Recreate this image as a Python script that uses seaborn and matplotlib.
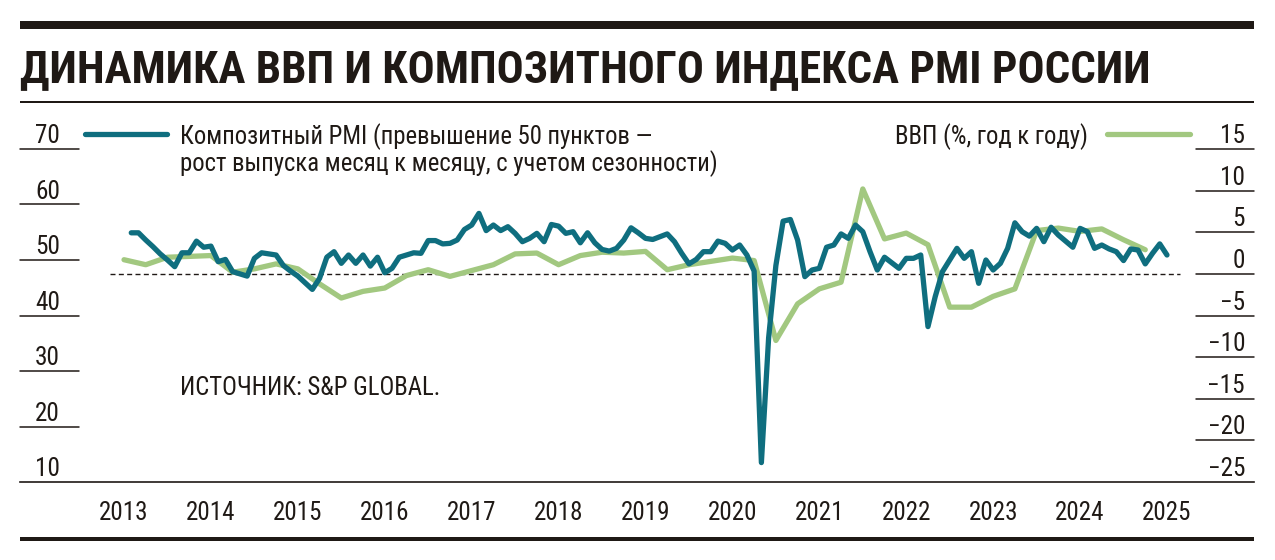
import numpy as np
import pandas as pd
import matplotlib
matplotlib.use("Agg")
import matplotlib.pyplot as plt
import seaborn as sns
from matplotlib import font_manager as fm
from matplotlib.lines import Line2D
from matplotlib.patches import Rectangle

# ---------------- data ----------------
TITLE = "ДИНАМИКА ВВП И КОМПОЗИТНОГО ИНДЕКСА PMI РОССИИ"
PMI_LABEL_1 = "Композитный PMI (превышение 50 пунктов —"
PMI_LABEL_2 = "рост выпуска месяц к месяцу, с учетом сезонности)"
GDP_LABEL = "ВВП (%, год к году)"
SOURCE = "ИСТОЧНИК: S&P GLOBAL."

# Composite PMI, monthly (Jan..Dec)
pmi_2013 = [54.9, 54.9, 53.6, 52.4, 51.1, 50.0, 48.8, 51.3, 51.3, 53.4, 52.3, 52.5]
pmi_2014 = [49.7, 50.1, 47.9, 47.5, 47.1, 50.3, 51.3, 51.1, 50.9, 49.0, 48.0, 47.1]
pmi_2015 = [45.9, 44.7, 46.7, 50.5, 51.5, 49.4, 50.9, 49.4, 50.9, 48.9, 50.5, 47.7]
pmi_2016 = [48.5, 50.5, 50.9, 51.3, 51.2, 53.5, 53.5, 52.9, 53.0, 53.6, 55.5, 56.3]
pmi_2017 = [58.4, 55.3, 56.3, 55.3, 56.0, 54.8, 53.3, 53.9, 54.8, 53.3, 56.4, 56.1]
pmi_2018 = [54.8, 55.1, 53.1, 54.9, 53.1, 51.9, 51.6, 52.1, 53.6, 55.8, 54.9, 53.9]
pmi_2019 = [53.7, 54.2, 54.7, 53.3, 51.2, 49.3, 50.1, 51.5, 51.5, 53.4, 53.0, 51.8]
pmi_2020 = [52.7, 50.9, 48.0, 13.5, 36.0, 49.0, 57.0, 57.3, 53.6, 47.0, 48.2, 48.5]
pmi_2021 = [52.3, 52.7, 54.7, 53.9, 56.3, 55.1, 51.5, 48.2, 50.5, 49.5, 48.5, 50.3]
pmi_2022 = [50.3, 50.9, 38.0, 43.4, 47.9, 50.0, 52.1, 50.3, 51.5, 45.8, 50.0, 48.2]
pmi_2023 = [49.4, 52.1, 56.7, 55.1, 54.3, 55.7, 53.3, 55.9, 54.5, 53.4, 52.3, 55.7]
pmi_2024 = [55.1, 52.1, 52.7, 52.0, 51.5, 49.9, 52.0, 51.8, 49.3, 51.2, 52.9, 50.9]

# GDP, % y/y, quarterly from 2012Q4 to 2024Q3
gdp_start, gdp_end = "2012Q4", "2024Q3"
gdp_yoy = [1.7, 1.1, 2.0, 2.1, 2.2, 0.2, 0.6, 1.2, 0.6, -1.2, -2.9, -2.1,
           -1.7, -0.2, 0.5, -0.3, 0.4, 1.1, 2.4, 2.5, 1.1, 2.2, 2.6, 2.5,
           2.7, 0.5, 1.1, 1.5, 1.9, 1.6, -8.0, -3.6, -1.8, -1.0, 10.2, 4.2,
           4.9, 3.5, -4.0, -4.0, -2.7, -1.8, 5.2, 5.5, 5.1, 5.4, 4.1, 2.9]

pmi_ticks = [10, 20, 30, 40, 50, 60, 70]
gdp_ticks = [15, 10, 5, 0, -5, -10, -15, -20, -25]
year_ticks = list(range(2013, 2026))

# ---------------- style ----------------
TEAL = "#0f6e7f"
GREEN = "#a2c880"
DARK = "#1f1915"

sns.set_theme(style="white")
names = {f.name for f in fm.fontManager.ttflist}


def pick(cands, default):
    for c in cands:
        if c in names:
            return c
    return default


body_font = pick(["Roboto Condensed", "Liberation Sans Narrow"], "Roboto")
title_font = pick(["Roboto Condensed"], "Roboto")
plt.rcParams["font.family"] = [body_font, "DejaVu Sans"]
plt.rcParams["text.color"] = DARK

pmi_vals = (pmi_2013 + pmi_2014 + pmi_2015 + pmi_2016 + pmi_2017 + pmi_2018 +
            pmi_2019 + pmi_2020 + pmi_2021 + pmi_2022 + pmi_2023 + pmi_2024)
months = pd.period_range("2013-01", "2024-12", freq="M")
pmi_df = pd.DataFrame({"t": months.year + months.month / 12.0, "pmi": pmi_vals})
quarters = pd.period_range(gdp_start, gdp_end, freq="Q")
gdp_df = pd.DataFrame({"t": quarters.year + quarters.quarter / 4.0, "gdp": gdp_yoy})

W, H = 1275, 560
fig = plt.figure(figsize=(W / 100, H / 100), dpi=100)
fig.patch.set_facecolor("white")

px_per_year = 86.9
x0 = 2013 - (124 - 20) / px_per_year
x1 = 2025 + (1254 - 1167) / px_per_year

ax = fig.add_axes([20 / W, (H - 482) / H, 1234 / W, 333 / H])   # GDP axis (right scale)
ax.set_xlim(x0, x1)
ax.set_ylim(-25, 15)
ax2 = ax.twinx()                                                  # PMI axis (left scale)
ax2.set_ylim(10, 70)

# zero line for GDP
ax.plot([2013 - 14 / px_per_year, 2025 + 13 / px_per_year], [0, 0], color=DARK,
        lw=1.0, ls=(0, (3.6, 2.4)), zorder=1)

sns.lineplot(data=gdp_df, x="t", y="gdp", ax=ax, color=GREEN, linewidth=3.8,
             legend=False, zorder=3)
sns.lineplot(data=pmi_df, x="t", y="pmi", ax=ax2, color=TEAL, linewidth=3.8,
             legend=False, zorder=4)
for ln in ax.lines[-1:] + ax2.lines[-1:]:
    ln.set_solid_joinstyle("round")
    ln.set_solid_capstyle("round")

for a in (ax, ax2):
    a.set_xlabel("")
    a.set_ylabel("")
    a.set_yticks([])
    for s in a.spines.values():
        s.set_visible(False)
ax.spines["bottom"].set_visible(True)
ax.spines["bottom"].set_color(DARK)
ax.spines["bottom"].set_linewidth(1.2)
ax.set_xlim(x0, x1)

ax.set_xticks(year_ticks)
ax.set_xticklabels([str(y) for y in year_ticks])
ax.tick_params(axis="x", direction="in", length=5, width=1.0, color=DARK,
               pad=14, labelsize=18, labelcolor=DARK)
ax2.tick_params(axis="x", bottom=False, labelbottom=False)

# left (PMI) ticks: short rules with labels above them
ytr2 = ax2.get_yaxis_transform()
for v in pmi_ticks:
    if v > 10:
        ax2.plot([0, 59 / 1234], [v, v], color=DARK, lw=1.1, transform=ytr2,
                 clip_on=False, zorder=2)
    ax2.annotate(str(v), xy=(40 / 1234, v), xycoords=ytr2, xytext=(0, 4.3),
                 textcoords="offset points", ha="right", va="baseline",
                 fontsize=18.2, color=DARK)

# right (GDP) ticks
ytr = ax.get_yaxis_transform()
for v in gdp_ticks:
    if v > -25:
        ax.plot([1176 / 1234, 1.0], [v, v], color=DARK, lw=1.1, transform=ytr,
                clip_on=False, zorder=2)
    lab = str(v) if v >= 0 else "\u2212" + str(-v)
    ax.annotate(lab, xy=(1225 / 1234, v), xycoords=ytr, xytext=(0, 4.3),
                textcoords="offset points", ha="right", va="baseline",
                fontsize=18.2, color=DARK)

# ---------------- decorations ----------------
fig.add_artist(Rectangle((20 / W, 1 - 28.5 / H), 1234 / W, 7.5 / H,
                         transform=fig.transFigure, color=DARK, lw=0))
fig.add_artist(Rectangle((20 / W, 1 - 102.5 / H), 1234 / W, 2 / H,
                         transform=fig.transFigure, color=DARK, lw=0))
fig.add_artist(Rectangle((20 / W, 1 - 541 / H), 1234 / W, 4.5 / H,
                         transform=fig.transFigure, color=DARK, lw=0))

title = fig.text(20 / W, 1 - 82 / H, TITLE, fontsize=32.4, fontweight="black",
                 family=[title_font, "DejaVu Sans"], va="baseline", ha="left",
                 color=DARK)
renderer = fig.canvas.get_renderer()
bw = title.get_window_extent(renderer).width
if bw > 1130:
    title.set_fontsize(32.4 * 1130 / bw)

# legend
fig.add_artist(Line2D([85 / W, 167 / W], [1 - 134 / H] * 2, lw=3.8, color=TEAL,
                      transform=fig.transFigure))
fig.add_artist(Line2D([1107 / W, 1190 / W], [1 - 134 / H] * 2, lw=3.8,
                      color=GREEN, transform=fig.transFigure))
fig.text(180 / W, 1 - 144 / H, PMI_LABEL_1, fontsize=17.8, va="baseline",
         ha="left", color=DARK)
fig.text(180 / W, 1 - 171 / H, PMI_LABEL_2, fontsize=17.8, va="baseline",
         ha="left", color=DARK)
fig.text(1088 / W, 1 - 144 / H, GDP_LABEL, fontsize=17.8, va="baseline",
         ha="right", color=DARK)
fig.text(180 / W, 1 - 395 / H, SOURCE, fontsize=17.8, va="baseline",
         ha="left", color=DARK)

fig.savefig("out.png", dpi=100, facecolor="white")
